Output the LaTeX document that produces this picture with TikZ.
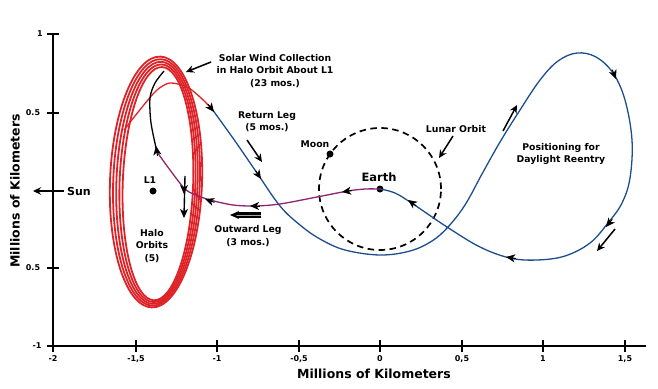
\documentclass[tikz,border=0pt]{standalone}
\usepackage{fontspec}
\setmainfont{DejaVu Sans}
\usetikzlibrary{arrows.meta}
\definecolor{haloRed}{RGB}{222,35,40}
\definecolor{trajBlue}{RGB}{28,78,140}
\definecolor{trajPurple}{RGB}{140,35,115}
\tikzset{
  lbl/.style={font=\bfseries\fontsize{9.3}{12.3}\selectfont, align=center, inner sep=0pt},
  ticklbl/.style={font=\bfseries\fontsize{8}{9}\selectfont, inner sep=0pt},
  axlbl/.style={font=\bfseries\fontsize{12.5}{14}\selectfont, inner sep=0pt},
  ptr/.style={line width=1.5pt, -{Stealth[length=8pt,width=7.5pt]}},
  curvetip/.style={-{Stealth[length=9pt,width=8pt,inset=2.5pt]}, line width=1pt},
  dot/.style={circle, fill=black, inner sep=0pt, minimum size=7pt},
  traj/.style={line width=1.3pt},
}
\newcommand\tipat[5]{%
  \pgfmathsetmacro\tipang{atan2(#4,#3)}%
  \draw[curvetip,#5] (#1,#2) ++(\tipang+180:10) -- (#1,#2);}
\begin{document}
\begin{tikzpicture}[x=1pt,y=-1pt]
\useasboundingbox (0,0) rectangle (658,388);
% axes
\draw[line width=1.2pt] (53,34) -- (53,346) -- (646,346);
\foreach \yy/\tt/\xx in {34/1/40, 113/0.5/33, 268/0.5/33, 346/-1/37}
  {\draw[line width=1.1pt] (47,\yy) -- (59,\yy);
   \node[ticklbl] at (\xx,\yy) {\tt};}
\foreach \xx/\tt in {53/-2, 136/{-1,5}, 217/-1, 299/{-0,5}, 380/0, 462/{0,5}, 543/1, 625/{1,5}}
  {\draw[line width=1.1pt] (\xx,340) -- (\xx,352);
   \node[ticklbl] at (\xx,359) {\tt};}
\node[axlbl] (xlab) at (374,374) {Millions of Kilometers};
\node[axlbl, rotate=90] (ylab) at (15,191) {Millions of Kilometers};

% halo orbits
\foreach \i in {0,...,4}
  \draw[haloRed, line width=1.8pt, rotate around={-2:(156,182)}]
    (156+0.5*\i,182+0.4*\i) ellipse [x radius={46pt-2.7*\i pt}, y radius={125.5pt-2.2*\i pt}];

% lunar orbit
\node[dot] (earth) at (380,189) {};
\node[dot] (moon) at (330,154) {};
\node[dot] (L1) at (153,191) {};
\draw[line width=1.7pt, dash pattern=on 6.5pt off 4.5pt] (earth) circle [radius=61pt];

% return leg (red part)
\draw[haloRed, traj] plot[smooth] coordinates {(124,130) (143,106) (157,90) (170,83) (187,87) (200,97) (212,109)};
% return leg (blue)
\draw[trajBlue, traj] plot[smooth, tension=0.6] coordinates {
 (212,109) (235,141) (257,173) (280,206) (300,225) (320,239) (345,250) (380,255)
 (410,251) (432,241) (448,227) (465,205) (482,174) (500,142) (520,110) (540,80)
 (558,61) (577,53) (596,57) (613,73) (625,100) (632,140) (630,178) (622,203)
 (608,223) (590,243) (565,256) (537,260) (510,258) (480,247) (447,227)
 (413,204) (395,193) (380,189)};
% outward leg (purple)
\draw[trajPurple, traj] plot[smooth] coordinates {
 (380,189) (365,189) (348,191) (317,197) (280,204) (255,206) (233,205) (210,200)
 (196,195) (185,189) (170,170) (157,152)};
% insertion (black)
\draw[traj, black] plot[smooth] coordinates {(157,152) (151,123) (150,98) (155,83) (164,71)};
\draw[line width=1.4pt] (185,176) -- (184,216);

% curve arrowheads
\tipat{214}{112}{1}{1.3}{black}
\tipat{261}{179}{0.65}{1}{black}
\tipat{616}{79}{0.4}{1}{black}
\tipat{606}{227}{-0.8}{1}{black}
\tipat{506}{257}{-1}{-0.15}{black}
\tipat{408}{200}{-1}{-0.7}{black}
\tipat{342}{192}{-1}{0.15}{black}
\tipat{250}{206}{-1}{0}{black}
\tipat{205}{199}{-1}{-0.35}{black}
\tipat{156}{146}{-0.15}{-1}{black}
\tipat{184}{194}{0}{1}{black}
\tipat{184}{218}{0}{1}{black}

% labels
\node[lbl] (solar) at (275,71) {Solar Wind Collection\\in Halo Orbit About L1\\(23 mos.)};
\coordinate (solarTip) at (186,72);
\draw[ptr] (211,62) -- (solarTip);
\node[lbl] (ret) at (267,122) {Return Leg\\(5 mos.)};
\coordinate (retTip) at (262,162);
\draw[ptr] (247,140) -- (retTip);
\node[lbl] (outw) at (248,236) {Outward Leg\\(3 mos.)};
\coordinate (outTip) at (230,215);
\draw[line width=2.4pt, double=gray!70, double distance=0.6pt, -{Stealth[length=9pt,width=8pt]}] (261,215) -- (outTip);
\node[lbl] (moonlbl) at (315,144) {Moon};
\node[lbl, font=\bfseries\fontsize{11.5}{13}\selectfont] (earthlbl) at (379,177) {Earth};
\node[lbl] (lunar) at (456,129) {Lunar Orbit};
\coordinate (lunarTip) at (439,158);
\draw[ptr] (453,136) -- (lunarTip);
\node[lbl] (pos) at (561,154) {Positioning for\\Daylight Reentry};
\coordinate (posTip) at (517,105);
\draw[ptr] (503,131) -- (posTip);
\coordinate (lrTip) at (597,251);
\draw[ptr] (615,229) -- (lrTip);
\node[lbl] (l1lbl) at (150,180) {L1};
\node[lbl] (halo) at (152,246) {Halo\\Orbits\\(5)};
\node[lbl, font=\bfseries\fontsize{11}{12}\selectfont] (sun) at (79,191) {Sun};
\coordinate (sunTip) at (33,191);
\draw[ptr] (64,191) -- (sunTip);
\end{tikzpicture}
\end{document}
